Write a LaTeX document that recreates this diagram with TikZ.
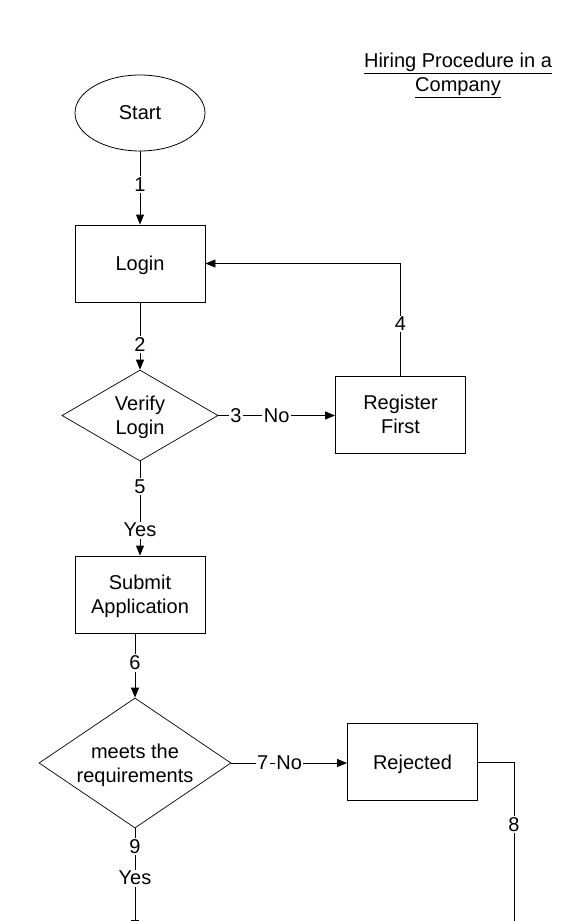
\documentclass[tikz,border=0pt]{standalone}
\usepackage{fontspec}
\setmainfont{Liberation Sans}
\usetikzlibrary{shapes.geometric,arrows.meta}
\begin{document}
\begin{tikzpicture}[x=1pt,y=-1pt,
  every node/.style={font=\fontsize{20}{24}\selectfont, text=black},
  box/.style={draw=black, line width=0.9pt, minimum width=130pt, minimum height=77pt, inner sep=0pt, align=center, text depth=0pt},
  oval/.style={draw=black, ellipse, line width=0.8pt, minimum width=130pt, minimum height=76pt, inner sep=0pt},
  dia/.style={draw=black, diamond, line width=0.7pt, inner sep=0pt, align=center, text depth=0pt},
  lbl/.style={fill=white, inner sep=1.5pt},
  conn/.style={draw=black, line width=0.9pt},
  arr/.style={conn, -{Triangle[length=10pt,width=8pt]}}]
\useasboundingbox (0,0) rectangle (580,921);
\clip (0,0) rectangle (580,921);
% title
\node[align=center] (title) at (458,75) {\underline{Hiring Procedure in a}\\\underline{Company}};
% nodes
\node[oval] (start) at (140,113) {Start};
\node[box] (login) at (140,263.5) {Login};
\node[dia, minimum width=156pt, minimum height=91pt, shape aspect=1.71] (ver) at (140,415.5) {Verify\\Login};
\node[box] (reg) at (400.5,414.5) {Register\\First};
\node[box] (sub) at (140,594.5) {Submit\\Application};
\node[dia, minimum width=192pt, minimum height=130pt, shape aspect=1.48] (req) at (135,763) {meets the\\requirements};
\node[box] (rej) at (412.5,762) {Rejected};
\coordinate (c8a) at (514,762);
\coordinate (c8b) at (514,930);
\coordinate (c9) at (135,930);
% connectors
\draw[arr] (start) -- node[lbl,pos=0.45]{1} (login);
\draw[arr] (login) -- node[lbl,pos=0.62]{2} (ver);
\draw[arr] (ver.east) -- node[lbl,pos=0.15]{3} node[lbl,pos=0.5]{No} (reg.west |- ver.east);
\draw[arr] (reg.north) -- node[lbl,pos=0.46]{4} (reg.north |- login.east) -- (login.east);
\draw[arr] (ver.south) -- node[lbl,pos=0.27]{5} node[lbl,pos=0.73]{Yes} (sub.north);
\draw[arr] (req.north |- sub.south) -- node[lbl,pos=0.46]{6} (req.north);
\draw[arr] (req.east) -- node[lbl,pos=0.27]{7} node[lbl,pos=0.5]{No} (rej.west |- req.east);
\draw[conn] (rej.east) -- (c8a) -- node[lbl,pos=0.37]{8} (c8b);
\draw[arr] (req.south) -- node[lbl,pos=0.18]{9} node[lbl,pos=0.49]{Yes} (c9);
\end{tikzpicture}
\end{document}
